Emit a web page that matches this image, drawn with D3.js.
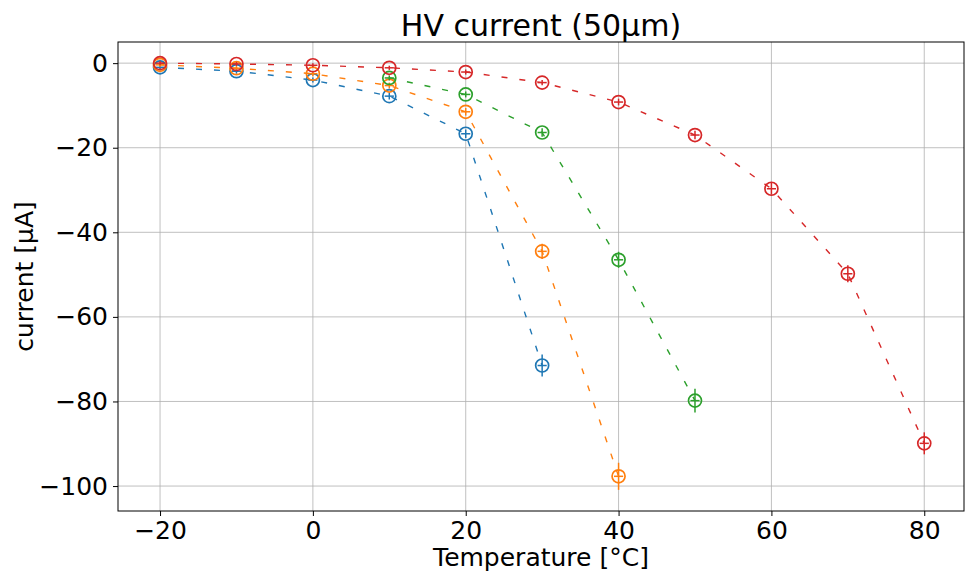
<!DOCTYPE html>
<html><head><meta charset="utf-8">
<script src="https://cdn.jsdelivr.net/npm/d3@7"></script>
<style>
body{margin:0;background:#fff;}
text{font-family:"DejaVu Sans",sans-serif;fill:#000;}
</style></head>
<body><svg id="c" width="966" height="574"></svg>
<script>
const title = "HV current (50µm)";
const xLabel = "Temperature [°C]";
const yLabel = "current [µA]";
const xTicks = [-20, 0, 20, 40, 60, 80];
const yTicks = [0, -20, -40, -60, -80, -100];
const colors = ["#1f77b4", "#ff7f0e", "#2ca02c", "#d62728"];

const blueT = [-20, -10, 0, 10, 20, 30];
const blueI = [-1.0, -1.9, -4.0, -7.8, -16.7, -71.5];
const blueErr = [0.5, 0.6, 0.6, 0.8, 1.0, 2.6];

const orangeT = [-20, -10, 0, 10, 20, 30, 40];
const orangeI = [-0.4, -1.2, -2.5, -5.3, -11.5, -44.5, -97.7];
const orangeErr = [0.5, 0.5, 0.6, 0.7, 0.9, 1.8, 3.2];

const greenT = [10, 20, 30, 40, 50];
const greenI = [-3.5, -7.4, -16.4, -46.5, -79.8];
const greenErr = [0.6, 0.7, 1.0, 1.9, 2.8];

const redT = [-20, -10, 0, 10, 20, 30, 40, 50, 60, 70, 80];
const redI = [0.0, -0.2, -0.5, -1.1, -2.1, -4.6, -9.2, -17.0, -29.7, -49.8, -89.9];
const redErr = [0.5, 0.5, 0.5, 0.5, 0.6, 0.6, 0.8, 1.0, 1.4, 2.0, 2.6];

const xErr = 0.6;

const series = [
  {T: blueT, I: blueI, E: blueErr},
  {T: orangeT, I: orangeI, E: orangeErr},
  {T: greenT, I: greenI, E: greenErr},
  {T: redT, I: redI, E: redErr}
];

const L = 118, R = 964, Tp = 42, B = 511;
const x = d3.scaleLinear().domain([-25.5, 85.2]).range([L, R]);
const y = d3.scaleLinear().domain([5, -105.9]).range([Tp, B]);

const svg = d3.select("#c");

// grid
svg.append("g").selectAll("line").data(xTicks).join("line")
  .attr("x1", d => x(d)).attr("x2", d => x(d)).attr("y1", Tp).attr("y2", B)
  .attr("stroke", "#b0b0b0").attr("stroke-opacity", 0.8).attr("stroke-width", 1);
svg.append("g").selectAll("line").data(yTicks).join("line")
  .attr("y1", d => y(d)).attr("y2", d => y(d)).attr("x1", L).attr("x2", R)
  .attr("stroke", "#b0b0b0").attr("stroke-opacity", 0.8).attr("stroke-width", 1);

const fmt = d => (d < 0 ? "\u2212" + Math.abs(d) : String(d));

// axes
const xAxis = svg.append("g").attr("transform", `translate(0,${B})`)
  .call(d3.axisBottom(x).tickValues(xTicks).tickFormat(fmt).tickSize(5).tickPadding(5));
const yAxis = svg.append("g").attr("transform", `translate(${L},0)`)
  .call(d3.axisLeft(y).tickValues(yTicks).tickFormat(fmt).tickSize(5).tickPadding(5));
[xAxis, yAxis].forEach(a => {
  a.select(".domain").remove();
  a.selectAll("line").attr("stroke", "#000").attr("stroke-width", 1);
  a.selectAll("text").attr("font-size", 25).attr("font-family", "DejaVu Sans").attr("fill", "#000");
});

// frame
svg.append("rect").attr("x", L).attr("y", Tp).attr("width", R - L).attr("height", B - Tp)
  .attr("fill", "none").attr("stroke", "#000").attr("stroke-width", 1);

// curves
const line = d3.line().x(d => x(d[0])).y(d => y(d[1])).curve(d3.curveLinear);
const plot = svg.append("g");
series.forEach((s, i) => {
  const pts = s.T.map((t, j) => [t, s.I[j]]);
  plot.append("path").datum(pts).attr("d", line)
    .attr("fill", "none").attr("stroke", colors[i]).attr("stroke-width", 1.4)
    .attr("stroke-dasharray", "6,12");
});
series.forEach((s, i) => {
  const g = plot.append("g");
  s.T.forEach((t, j) => {
    const v = s.I[j], e = s.E[j];
    g.append("line").attr("x1", x(t)).attr("x2", x(t)).attr("y1", y(v - e)).attr("y2", y(v + e))
      .attr("stroke", colors[i]).attr("stroke-width", 1.5);
    g.append("line").attr("x1", x(t - xErr)).attr("x2", x(t + xErr)).attr("y1", y(v)).attr("y2", y(v))
      .attr("stroke", colors[i]).attr("stroke-width", 1.5);
    g.append("circle").attr("cx", x(t)).attr("cy", y(v)).attr("r", 6.5)
      .attr("fill", "none").attr("stroke", colors[i]).attr("stroke-width", 1.7);
  });
});

// labels
svg.append("text").attr("x", (L + R) / 2).attr("y", 36).attr("text-anchor", "middle")
  .attr("font-size", 30).text(title);
svg.append("text").attr("x", (L + R) / 2).attr("y", 566).attr("text-anchor", "middle")
  .attr("font-size", 25).text(xLabel);
svg.append("text").attr("transform", `translate(${33},${(Tp + B) / 2}) rotate(-90)`)
  .attr("text-anchor", "middle").attr("font-size", 25).text(yLabel);
</script></body></html>
